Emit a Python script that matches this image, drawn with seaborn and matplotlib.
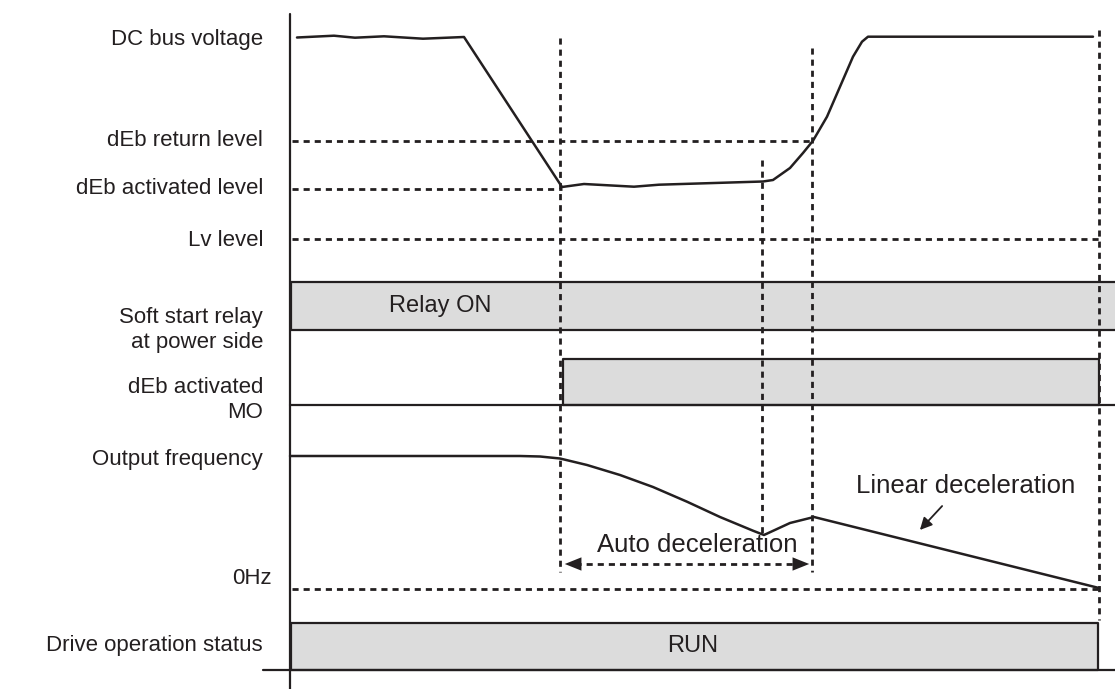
import numpy as np
import pandas as pd
import matplotlib.pyplot as plt
import seaborn as sns

# timing diagram, coordinates (x = time, y = level, screen units)
vdc_t = [297, 334, 355, 384, 423, 464, 562, 584, 634, 659, 763, 773, 790, 803, 813,
         827, 840, 853, 862, 868, 1093]
vdc_v = [37.5, 35.7, 37.7, 36.3, 38.7, 37, 187, 184, 186.7, 184.7, 181.5, 180, 168, 153, 140.7,
         116.7, 86.7, 56.7, 41.7, 36.7, 36.7]

freq_t = [290, 520, 540, 560, 587, 620, 653, 687, 720, 753, 764, 790, 814, 1099]
freq_v = [456, 456, 456.5, 458.5, 465, 475, 487, 501.7, 517, 530.7, 535, 523, 517, 588]

# horizontal reference levels: (y, x_end)
levels = {"dEb return level": (141, 812), "dEb activated level": (189, 562),
          "Lv level": (239, 1100), "0Hz": (589, 1099)}
# vertical event markers: (x, y_top, y_bottom)
events = [(560, 38, 572), (762, 160, 534), (812, 48, 572), (1099, 30, 620)]

# on/off bars: (label, x_start, x_end, y_top, y_bottom, label_x)
bars = [("Relay ON", 291, 1118, 282, 330, 440), ("", 563, 1099, 359, 405, 0),
        ("RUN", 291, 1098, 623, 670, 693)]

row_labels = [("DC bus voltage", 40), ("dEb return level", 141), ("dEb activated level", 189),
              ("Lv level", 240), ("Soft start relay\nat power side", 330), ("dEb activated\nMO", 400),
              ("Output frequency", 459), ("Drive operation status", 645)]

sns.set_theme(style="white")
plt.rcParams['font.family'] = ['Liberation Sans', 'DejaVu Sans']
ink = "#231f20"
fs = 16

fig = plt.figure(figsize=(11.15, 6.89), dpi=100)
ax = fig.add_axes([0, 0, 1, 1])

dots = dict(color=ink, lw=2.0, linestyle=(0, (2.2, 1.8)))

# axes lines
ax.plot([290, 290], [14, 689], color=ink, lw=1.6)
ax.plot([263, 1115], [670, 670], color=ink, lw=1.6)
ax.plot([290, 1115], [405, 405], color=ink, lw=1.6)

for name, (y, xe) in levels.items():
    ax.plot([292, xe], [y, y], **dots)
for x, y0, y1 in events:
    ax.plot([x, x], [y0, y1], **dots)

for lab, x0, x1, y0, y1, lx in bars:
    ax.fill_between([x0, x1], y0, y1, facecolor="#dcdcdc", edgecolor=ink, lw=1.6, zorder=1)
    if lab:
        ax.text(lx, (y0 + y1) / 2, lab, ha="center", va="center", fontsize=17, color=ink)

vdc = pd.DataFrame({"t": vdc_t, "v": vdc_v})
freq = pd.DataFrame({"t": freq_t, "v": freq_v})
sns.lineplot(data=vdc, x="t", y="v", sort=False, estimator=None, color=ink, lw=1.8, ax=ax)
sns.lineplot(data=freq, x="t", y="v", sort=False, estimator=None, color=ink, lw=1.8, ax=ax)
ax.set_xlim(0, 1115)
ax.set_ylim(689, 0)
ax.axis("off")

for txt, y in row_labels:
    ax.text(263, y, txt, ha="right", va="center", fontsize=fs, color=ink, linespacing=1.25)
ax.text(232, 578, "0Hz", ha="left", va="center", fontsize=fs, color=ink)

# auto deceleration span
ax.plot([575, 800], [564, 564], **dots)
head = dict(arrowstyle="-|>,head_length=1.0,head_width=0.4", color=ink, lw=0)
ax.annotate("", xy=(562, 564), xytext=(592, 564), arrowprops=head)
ax.annotate("", xy=(812, 564), xytext=(782, 564), arrowprops=head)
ax.text(697, 545, "Auto deceleration", ha="center", va="center", fontsize=18.5, color=ink)

ax.text(966, 486, "Linear deceleration", ha="center", va="center", fontsize=18.5, color=ink)
ax.annotate("", xy=(918, 532), xytext=(944, 504),
            arrowprops=dict(arrowstyle="-|>,head_length=0.6,head_width=0.3", color=ink, lw=1.3))

fig.savefig("out.png", dpi=100)
